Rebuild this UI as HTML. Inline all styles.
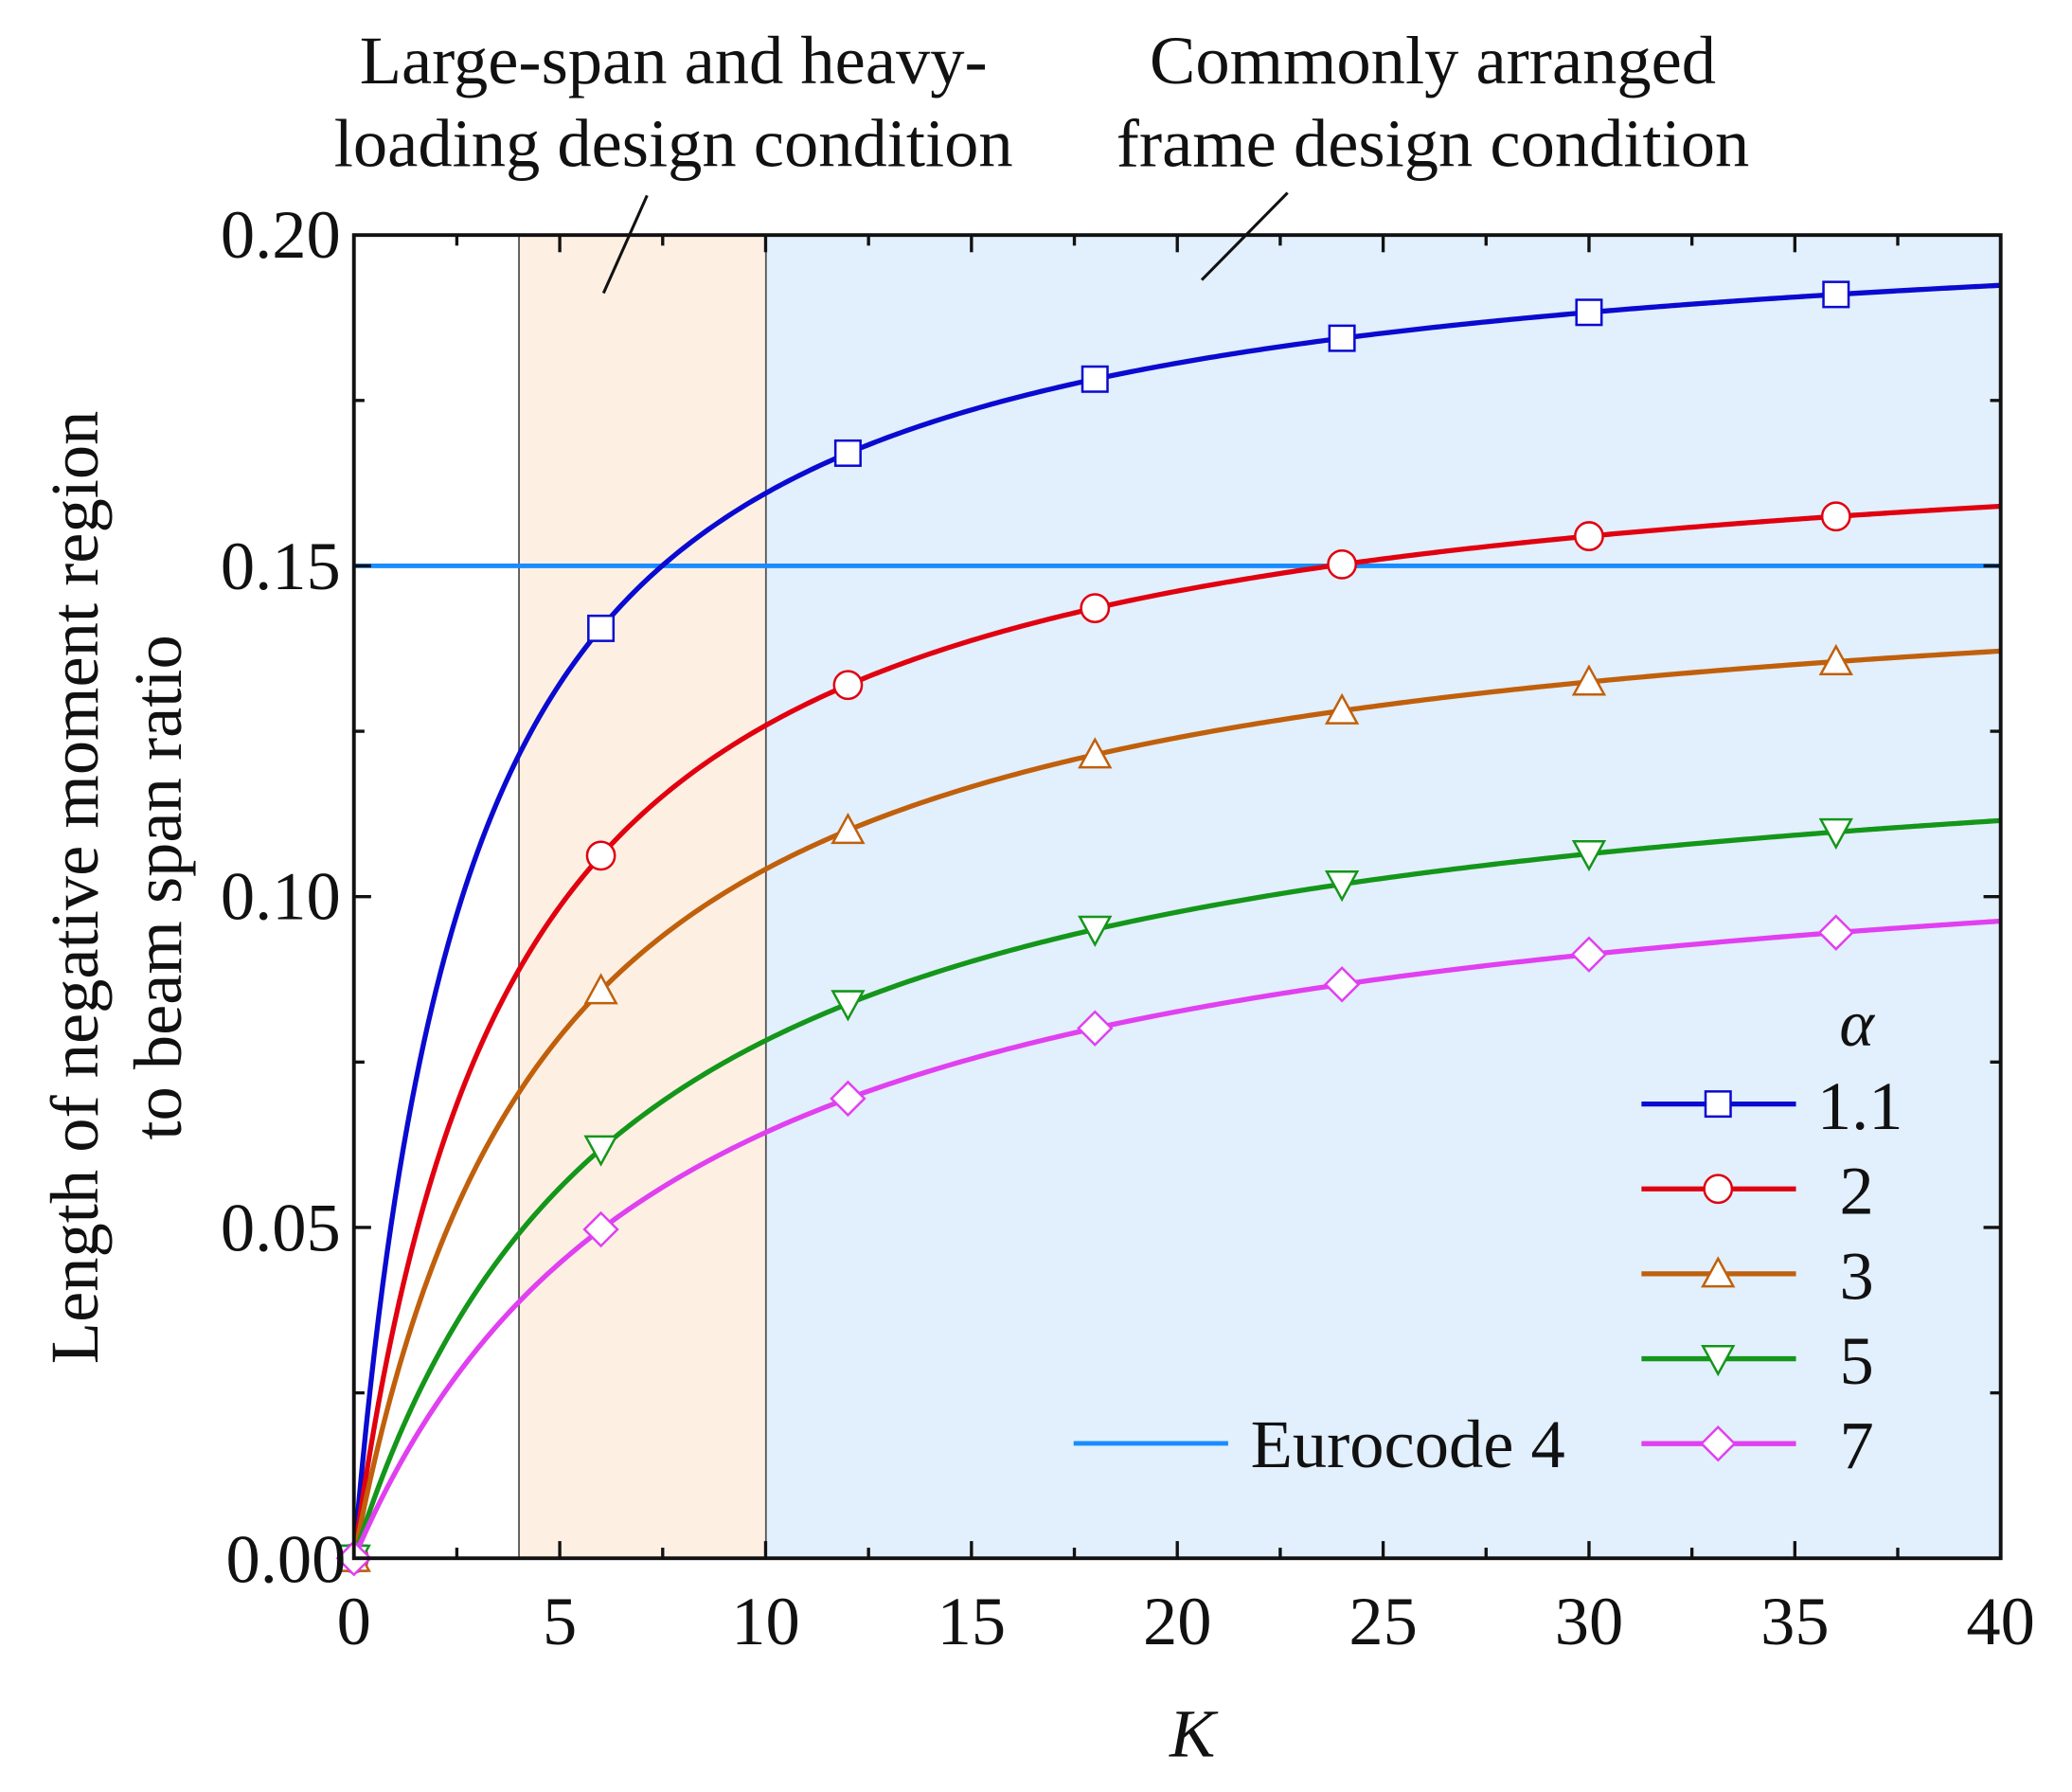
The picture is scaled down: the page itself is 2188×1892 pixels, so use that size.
<!DOCTYPE html>
<html><head><meta charset="utf-8"><style>
html,body{margin:0;padding:0;background:#fff;}
svg{display:block;}
text{font-family:"Liberation Serif",serif;fill:#111;}
</style></head><body>
<svg id="s" xmlns="http://www.w3.org/2000/svg" width="2188" height="1892" viewBox="0 0 1569 1357" preserveAspectRatio="none">
<rect x="0" y="0" width="1569" height="1357" fill="#fff"/>
<rect x="393" y="178" width="187" height="1002" fill="#fdf0e3"/>
<rect x="580" y="178" width="935" height="1002" fill="#e2effc"/>
<line x1="393" y1="178" x2="393" y2="1180" stroke="#555" stroke-width="1.3"/>
<line x1="580" y1="178" x2="580" y2="1180" stroke="#555" stroke-width="1.3"/>
<line x1="268" y1="428.5" x2="1515" y2="428.5" stroke="#1a8cff" stroke-width="3.5"/>
<g id="ticks" stroke="#111" stroke-width="2.4"></g>
<g id="curves"></g>
<rect x="268" y="178" width="1247" height="1002" fill="none" stroke="#111" stroke-width="2.8"/>
<g font-size="52" text-anchor="end">
<text x="258" y="195">0.20</text>
<text x="258" y="446">0.15</text>
<text x="258" y="696">0.10</text>
<text x="258" y="947">0.05</text>
<text x="262" y="1198">0.00</text>
</g>
<g font-size="52" text-anchor="middle" id="xl"></g>
<text x="903" y="1330" font-size="52" font-style="italic" text-anchor="middle">K</text>
<g font-size="52" text-anchor="middle">
<text transform="translate(74,672) rotate(-90)">Length of negative moment region</text>
<text transform="translate(137,672) rotate(-90)">to beam span ratio</text>
</g>
<g font-size="52" text-anchor="middle">
<text x="510" y="63">Large-span and heavy-</text>
<text x="510" y="126">loading design condition</text>
<text x="1085" y="63">Commonly arranged</text>
<text x="1085" y="126">frame design condition</text>
</g>
<line x1="490" y1="148" x2="457" y2="222" stroke="#111" stroke-width="2.2"/>
<line x1="975" y1="146" x2="910" y2="212" stroke="#111" stroke-width="2.2"/>
<g id="leg"></g>
<text x="1406" y="792" font-size="50" font-style="italic" text-anchor="middle">α</text>
<line x1="813" y1="1093" x2="930" y2="1093" stroke="#1a8cff" stroke-width="3.5"/>
<text x="947" y="1111" font-size="52">Eurocode 4</text>
</svg>
<script>
var NS="http://www.w3.org/2000/svg";
function X(k){return 268+k*31.175;}
function Y(v){return 1180-v*5010;}
function el(t,a,p){var e=document.createElementNS(NS,t);for(var k in a)e.setAttribute(k,a[k]);p.appendChild(e);return e;}
var tk=document.getElementById('ticks');
for(var i=1;i<16;i++){var x=X(i*2.5),L=(i%2==0)?13:8;
 el('line',{x1:x,y1:1180,x2:x,y2:1180-L},tk);el('line',{x1:x,y1:178,x2:x,y2:178+L},tk);}
for(var i=1;i<8;i++){var y=Y(i*0.025),L=(i%2==0)?13:8;
 el('line',{x1:268,y1:y,x2:268+L,y2:y},tk);el('line',{x1:1515,y1:y,x2:1515-L,y2:y},tk);}
var xl=document.getElementById('xl');
for(var i=0;i<=8;i++){var t=el('text',{x:X(i*5),y:1245},xl);t.textContent=String(i*5);}
var S=[{a:0.2058,b:2.785,c:'#0a0ad0',m:'sq',l:'1.1'},{a:0.1743,b:3.847,c:'#e00010',m:'ci',l:'2'},
{a:0.1533,b:4.72,c:'#c0600c',m:'tu',l:'3'},{a:0.1299,b:6.60,c:'#14961a',m:'td',l:'5'},{a:0.1154,b:7.93,c:'#e040f0',m:'di',l:'7'}];
var cg=document.getElementById('curves'),lg=document.getElementById('leg');
function mark(m,x,y,c,p){var r=9.5,st={fill:'#fff',stroke:c,'stroke-width':1.8};
 if(m=='sq'){st.x=x-r;st.y=y-r;st.width=2*r;st.height=2*r;el('rect',st,p);}
 else if(m=='ci'){st.cx=x;st.cy=y;st.r=r+1;el('circle',st,p);}
 else if(m=='tu'){st.points=(x)+','+(y-r-2)+' '+(x+r+2)+','+(y+r)+' '+(x-r-2)+','+(y+r);el('polygon',st,p);}
 else if(m=='td'){st.points=(x)+','+(y+r+2)+' '+(x+r+2)+','+(y-r)+' '+(x-r-2)+','+(y-r);el('polygon',st,p);}
 else {st.points=x+','+(y-r-3)+' '+(x+r+3)+','+y+' '+x+','+(y+r+3)+' '+(x-r-3)+','+y;el('polygon',st,p);}}
S.forEach(function(s,j){var d='';for(var k=0;k<=40.001;k+=0.1){var v=s.a*k/(k+s.b);d+=(k==0?'M':'L')+X(k).toFixed(2)+','+Y(v).toFixed(2);}
 el('path',{d:d,fill:'none',stroke:s.c,'stroke-width':3.8},cg);
 [0,6,12,18,24,30,36].forEach(function(k){mark(s.m,X(k),Y(s.a*k/(k+s.b)),s.c,cg);});
 var ly=836+j*64.3;el('line',{x1:1243,y1:ly,x2:1360,y2:ly,stroke:s.c,'stroke-width':3.8},lg);mark(s.m,1301,ly,s.c,lg);
 var t=el('text',{x:(j==0?1376:1406),y:ly+19,'font-size':52,'text-anchor':(j==0?'start':'middle')},lg);t.textContent=s.l;});
</script>
</body></html>
